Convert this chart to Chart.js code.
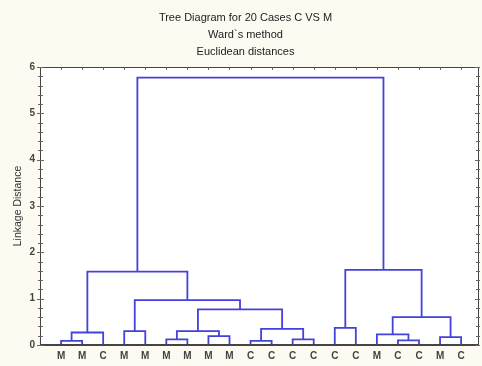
<!DOCTYPE html>
<html>
<head>
<meta charset="utf-8">
<script src="https://cdn.jsdelivr.net/npm/chart.js@4/dist/chart.umd.min.js"></script>
<style>
html,body{margin:0;padding:0;background:#fcfaf1;}
#wrap{width:482px;height:366px;position:relative;}
</style>
</head>
<body>
<div id="wrap"><canvas id="c" width="482" height="366"></canvas></div>
<script>
// ---- data ----
const titleLines = ["Tree Diagram for 20 Cases C VS M", "Ward`s method", "Euclidean distances"];
const yAxisTitle = "Linkage Distance";
const leafLabels = ["M","M","C","M","M","M","M","M","M","C","C","C","C","C","C","M","C","C","M","C"];
// merges: indices < 20 are leaves (in plotted order), >= 20 are earlier merges (20 + row)
const mergeLeft   = [0, 20, 3, 5, 7, 23, 9, 11, 26, 25, 22, 21, 13, 16, 15, 18, 34, 32, 31];
const mergeRight  = [1, 2, 4, 6, 8, 24, 10, 12, 27, 28, 29, 30, 14, 17, 33, 19, 35, 36, 37];
const mergeHeight = [0.09, 0.27, 0.30, 0.12, 0.19, 0.30, 0.09, 0.12, 0.35, 0.77, 0.97, 1.585, 0.37, 0.10, 0.23, 0.17, 0.60, 1.62, 5.77];
const yTicks = [0, 1, 2, 3, 4, 5, 6];

// ---- build line segments ----
const n = leafLabels.length;
const nodeX = [], nodeY = [];
for (let i = 0; i < n; i++) { nodeX.push(i + 1); nodeY.push(0); }
const datasets = [];
const lineColor = '#4242dc';
for (let k = 0; k < mergeLeft.length; k++) {
  const a = mergeLeft[k], b = mergeRight[k], h = mergeHeight[k];
  datasets.push({
    data: [
      {x: nodeX[a], y: nodeY[a]},
      {x: nodeX[a], y: h},
      {x: nodeX[b], y: h},
      {x: nodeX[b], y: nodeY[b]}
    ],
    showLine: true, borderColor: lineColor, borderWidth: 1.8,
    pointRadius: 0, tension: 0, fill: false
  });
  nodeX.push((nodeX[a] + nodeX[b]) / 2);
  nodeY.push(h);
}

const frame = {
  id: 'frame',
  beforeDraw(chart) {
    const {ctx, chartArea: a} = chart;
    ctx.save();
    ctx.fillStyle = '#ffffff';
    ctx.fillRect(a.left, a.top, a.right - a.left, a.bottom - a.top);
    ctx.restore();
  },
  afterDraw(chart) {
    const {ctx, chartArea: a, scales} = chart;
    ctx.save();
    ctx.strokeStyle = '#444';
    ctx.lineWidth = 1;
    ctx.strokeRect(a.left + 0.5, a.top + 0.5, a.right - a.left - 1, a.bottom - a.top - 1);
    ctx.strokeStyle = '#666';
    for (let v = 0; v <= 6.0001; v += 0.2) {
      const y = Math.round(scales.y.getPixelForValue(v)) + 0.5;
      const major = Math.abs(v - Math.round(v)) < 1e-6;
      const len = major ? 3 : 2;
      ctx.beginPath();
      ctx.moveTo(a.left - len, y); ctx.lineTo(a.left + len + 1, y);
      ctx.moveTo(a.right - len - 1, y); ctx.lineTo(a.right + 1, y);
      ctx.stroke();
    }
    for (let i = 0; i < n; i++) {
      const x = Math.round(scales.x.getPixelForValue(i + 1)) + 0.5;
      ctx.beginPath();
      ctx.moveTo(x, a.top); ctx.lineTo(x, a.top + 3);
      ctx.stroke();
    }
    ctx.restore();
  }
};

new Chart(document.getElementById('c'), {
  type: 'scatter',
  data: { datasets },
  plugins: [frame],
  options: {
    responsive: false,
    animation: false,
    layout: { padding: { left: 12, right: 3, top: 0, bottom: 0 } },
    plugins: {
      legend: { display: false },
      tooltip: { enabled: false },
      title: {
        display: true,
        text: titleLines,
        color: '#222',
        font: { family: 'Liberation Sans, Arial, sans-serif', size: 11, weight: 'normal', lineHeight: 17/11 },
        padding: { top: 9, bottom: 7 }
      }
    },
    scales: {
      x: {
        type: 'linear',
        min: 0, max: 20.85,
        grid: { display: false, drawTicks: false },
        border: { display: true, color: '#444' },
        afterBuildTicks(scale) {
          scale.ticks = leafLabels.map((_, i) => ({ value: i + 1 }));
        },
        afterFit(scale) { scale.height = 21; },
        ticks: {
          autoSkip: false, maxRotation: 0, padding: 5,
          color: '#444',
          font: { family: 'Liberation Sans, Arial, sans-serif', size: 10, weight: 'bold' },
          callback: (v) => leafLabels[Math.round(v) - 1] || ''
        }
      },
      y: {
        min: 0, max: 6,
        grid: { display: false, drawTicks: false },
        border: { display: true, color: '#444' },
        afterBuildTicks(scale) {
          scale.ticks = yTicks.map(v => ({ value: v }));
        },
        afterFit(scale) { scale.width = 28; },
        ticks: {
          padding: 5, color: '#444',
          font: { family: 'Liberation Sans, Arial, sans-serif', size: 10, weight: 'bold' }
        },
        title: {
          display: true, text: yAxisTitle, color: '#333', padding: 0,
          font: { family: 'Liberation Sans, Arial, sans-serif', size: 10.5 }
        }
      }
    }
  }
});
</script>
</body>
</html>
